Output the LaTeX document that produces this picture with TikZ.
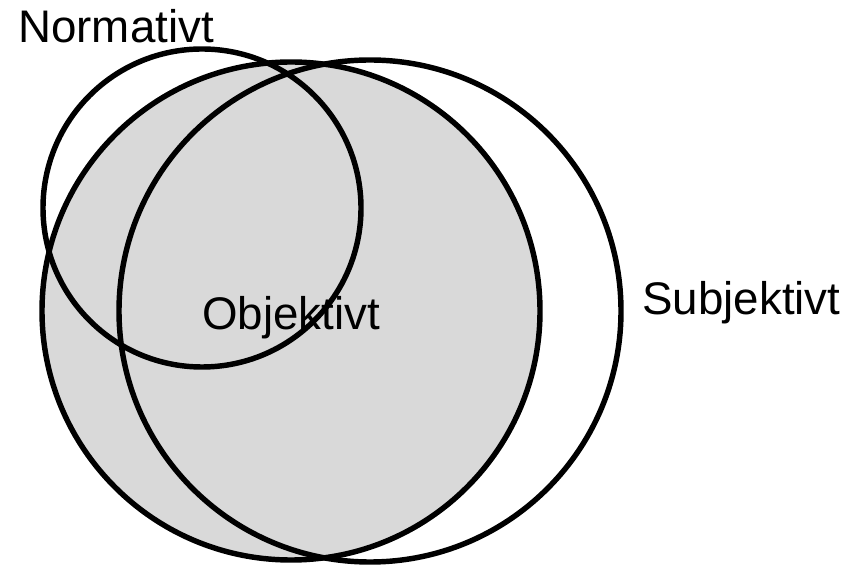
\documentclass[tikz,border=0pt]{standalone}
\usepackage{fontspec}
\setmainfont{Liberation Sans}
\begin{document}
\begin{tikzpicture}[
        set/.style={circle,draw=black,line width=3.1pt,inner sep=0pt},
        shaded/.style={set,fill=black!15},
        label/.style={font=\fontsize{26}{30}\selectfont,inner sep=0pt}]
    \useasboundingbox (0,0) rectangle (17.3,11.32);
    % Circles
    \node[shaded,minimum size=9.96cm] (obj) at (5.82,5.10) {};
    \node[set,minimum size=10.04cm] (subj) at (7.40,5.10) {};
    \node[set,minimum size=6.36cm] (norm) at (4.04,7.16) {};
    % Labels
    \node[label,anchor=base west] (normlab) at (0.36,10.46) {Normativt};
    \node[label,anchor=base] (objlab) at (5.82,4.72) {Objektivt};
    \node[label,anchor=base west] (subjlab) at (12.84,5.02) {Subjektivt};
\end{tikzpicture}
\end{document}
